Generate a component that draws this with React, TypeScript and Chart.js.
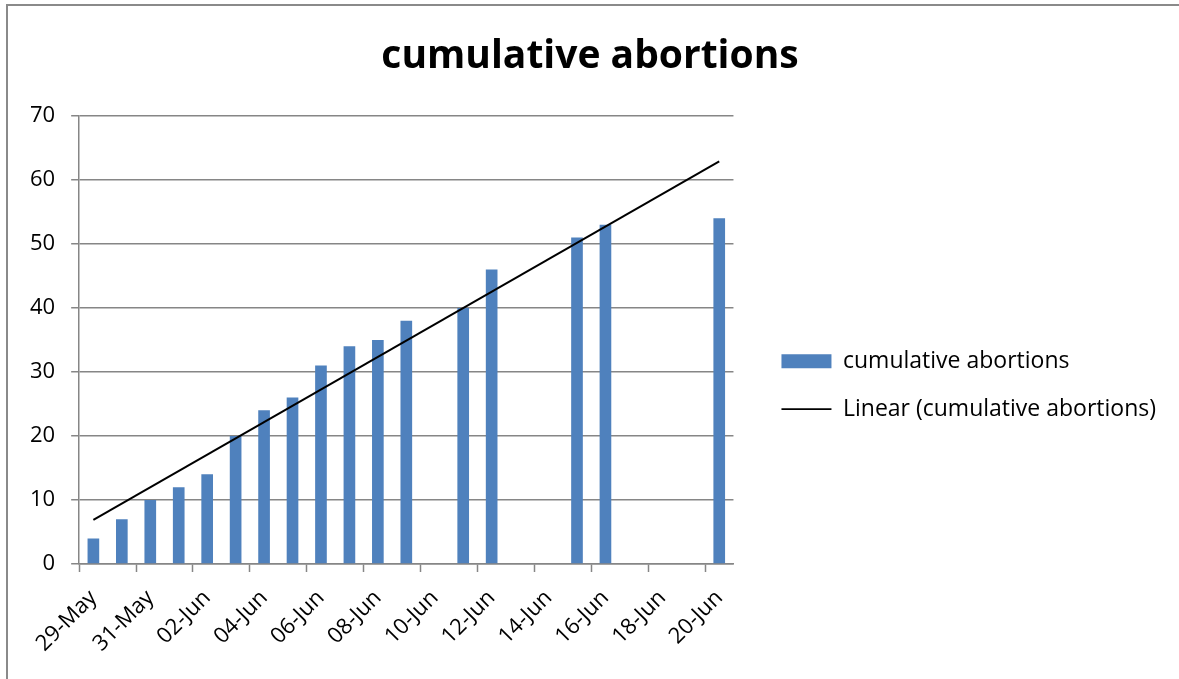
import React, { useEffect, useRef } from "react";
import { Chart, registerables } from "chart.js";

Chart.register(...registerables);

const categories = [
  "29-May", "30-May", "31-May", "01-Jun", "02-Jun", "03-Jun", "04-Jun", "05-Jun",
  "06-Jun", "07-Jun", "08-Jun", "09-Jun", "10-Jun", "11-Jun", "12-Jun", "13-Jun",
  "14-Jun", "15-Jun", "16-Jun", "17-Jun", "18-Jun", "19-Jun", "20-Jun",
];

const cumulativeAbortions = [
  4, 7, 10, 12, 14, 20, 24, 26, 31, 34, 35, 38, null, 40, 46, null, null, 51, 53,
  null, null, null, 54,
];

// Linear trendline (start and end values)
const trendValues = [
  6.9, null, null, null, null, null, null, null, null, null, null, null, null,
  null, null, null, null, null, null, null, null, null, 62.9,
];

const seriesLabel = "cumulative abortions";
const trendLabel = "Linear (cumulative abortions)";
const chartTitle = "cumulative abortions";

const FONT = "'Open Sans', 'Noto Sans', sans-serif";
const GRID = "#868686";

export default function App() {
  const ref = useRef<HTMLCanvasElement | null>(null);

  useEffect(() => {
    if (!ref.current) return;
    const chart = new Chart(ref.current, {
      type: "bar",
      data: {
        labels: categories,
        datasets: [
          {
            type: "bar",
            label: seriesLabel,
            data: cumulativeAbortions as any,
            backgroundColor: "#4F81BD",
            borderWidth: 0,
            barPercentage: 0.41,
            categoryPercentage: 1,
            order: 1,
          },
          {
            type: "line",
            label: trendLabel,
            data: trendValues as any,
            borderColor: "#000000",
            backgroundColor: "#000000",
            borderWidth: 2,
            pointRadius: 0,
            spanGaps: true,
            order: 0,
          } as any,
        ],
      },
      options: {
        responsive: false,
        animation: false,
        layout: { padding: { left: 14, right: 13, top: 0, bottom: 0 } },
        plugins: {
          title: {
            display: true,
            text: chartTitle,
            color: "#000",
            font: { family: FONT, size: 39, weight: "bold" },
            padding: { top: 33, bottom: 36 },
          },
          legend: {
            position: "right",
            align: "center",
            maxWidth: 600,
            title: { display: true, text: "", padding: { top: 0, bottom: 77 } },
            labels: {
              usePointStyle: true,
              pointStyleWidth: 50,
              boxHeight: 14,
              padding: 25,
              color: "#000",
              font: { family: FONT, size: 23 },
              sort: (a: any, b: any) => a.datasetIndex - b.datasetIndex,
              generateLabels: (chart: any) => {
                const items = Chart.defaults.plugins.legend.labels.generateLabels(chart);
                return items.map((it: any) => {
                  if (it.datasetIndex === 0) {
                    return { ...it, pointStyle: "rect", lineWidth: 0, fillStyle: "#4F81BD" };
                  }
                  return { ...it, pointStyle: "line", lineWidth: 1.8, strokeStyle: "#000" };
                });
              },
            },
          } as any,
          tooltip: { enabled: false },
        },
        scales: {
          x: {
            offset: true,
            grid: {
              offset: true,
              drawOnChartArea: false,
              drawTicks: true,
              tickLength: 8,
              tickWidth: 1.5,
              tickColor: (ctx: any) =>
                ctx.index % 2 === 0 && ctx.index < categories.length ? GRID : "rgba(0,0,0,0)",
            },
            border: { color: GRID, width: 1.5 },
            ticks: {
              autoSkip: false,
              minRotation: 45,
              maxRotation: 45,
              padding: 13,
              color: "#000",
              font: { family: FONT, size: 22 },
              callback: (_v: any, i: number) => (i % 2 === 0 ? categories[i] : ""),
            },
            afterFit: (s: any) => {
              s.height = 115;
            },
          } as any,
          y: {
            min: 0,
            max: 70,
            ticks: {
              stepSize: 10,
              padding: 16,
              color: "#000",
              font: { family: FONT, size: 22 },
            },
            grid: { color: GRID, lineWidth: 1.5, tickLength: 8 },
            border: { color: GRID, width: 1.5 },
          },
          spacer: {
            type: "linear",
            position: "right",
            display: true,
            grid: { display: false, drawTicks: false },
            border: { display: false },
            ticks: { display: false },
            afterFit: (s: any) => {
              s.width = 23;
            },
          } as any,
        },
      },
    });
    return () => chart.destroy();
  }, []);

  return (
    <div
      style={{
        position: "fixed",
        left: 0,
        top: 0,
        width: 1179,
        height: 679,
        background: "#fff",
        overflow: "hidden",
      }}
    >
      <div
        style={{
          position: "absolute",
          left: 6,
          top: 4,
          width: 1300,
          height: 800,
          borderTop: "2px solid #8a8a8a",
          borderLeft: "2px solid #8a8a8a",
        }}
      />
      <canvas
        ref={ref}
        width={1179}
        height={679}
        style={{ position: "absolute", left: 0, top: 0, width: 1179, height: 679 }}
      />
    </div>
  );
}
